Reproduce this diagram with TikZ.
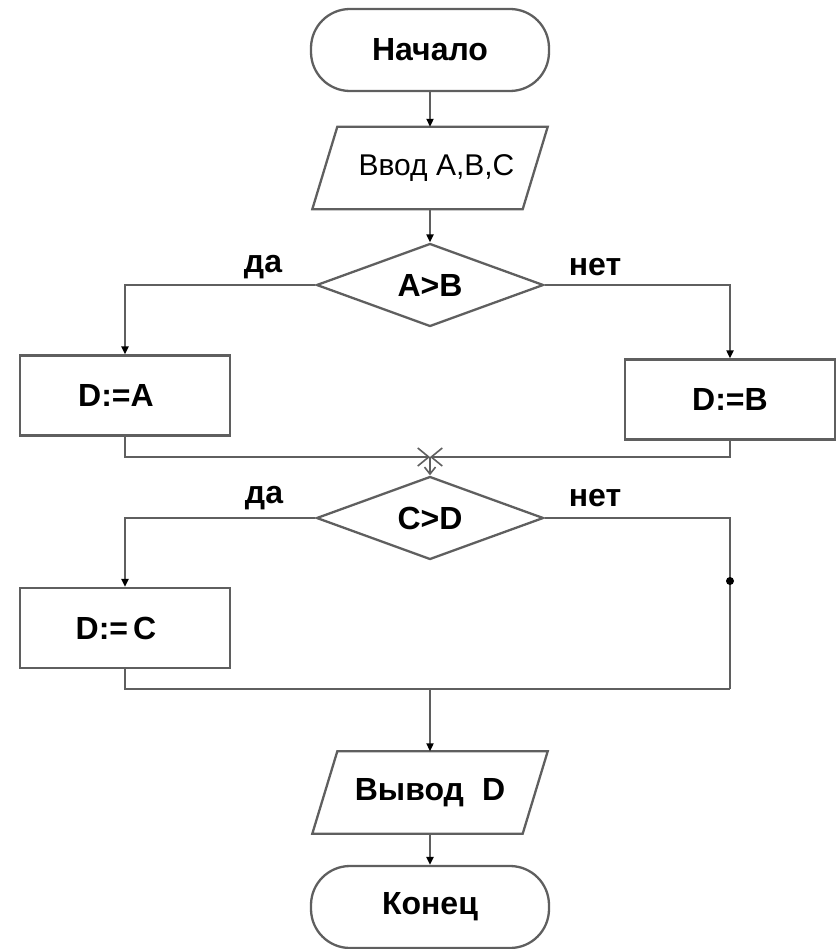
\documentclass[tikz,border=0pt]{standalone}
\usepackage{fontspec}
\setmainfont{Liberation Sans}
\usetikzlibrary{shapes.geometric,arrows.meta}
\definecolor{linegray}{RGB}{95,95,95}
\begin{document}
\begin{tikzpicture}[x=1pt,y=-1pt,
  line/.style={draw=linegray, line width=2.3pt},
  txt/.style={font=\fontsize{32}{38}\selectfont\bfseries, text=black},
  flow/.style={line, -{Triangle[length=8pt,width=7pt,color=black]}},
  barb/.style={line, -{Straight Barb[length=11pt,width=18pt,line width=1.6pt]}},
  barbsmall/.style={line, -{Straight Barb[length=7pt,width=11pt,line width=1.6pt]}},
  term/.style={line, txt, rectangle, rounded corners=39pt, minimum width=238pt, minimum height=82pt, inner sep=0pt},
  frame/.style={txt, draw=none, minimum width=210pt, minimum height=82pt, inner sep=0pt},
  proc/.style={line, txt, rectangle, minimum width=210pt, minimum height=80pt, inner sep=0pt},
  dec/.style={line, txt, diamond, aspect=2.7, minimum width=227pt, minimum height=83pt, inner sep=0pt},
  lbl/.style={txt},
  dot/.style={circle, fill=black, inner sep=0pt, minimum size=8pt}]

\useasboundingbox (0,0) rectangle (836,949);

% terminals, input/output, decisions and assignments
\node[term] (start) at (430,50) {Начало};
\node[frame] (in) at (430,168) {\mdseries\fontsize{30}{36}\selectfont\hspace*{13pt}Ввод A,B,C};
\draw[line] ([xshift=12.5pt]in.north west) -- ([xshift=12.5pt]in.north east)
  -- ([xshift=-12.5pt]in.south east) -- ([xshift=-12.5pt]in.south west) -- cycle;

\node[dec] (d1) at (430,285) {A>B};
\node[proc] (bA) at (125,395.5) {\hspace*{-18pt}D:=A};
\node[proc] (bB) at (730,399.5) {D:=B};

\node[dec] (d2) at (430,518) {C>D};
\node[proc] (bC) at (125,628) {\hspace*{-18pt}D:=\hspace{5pt}C};

\node[frame] (out) at (430,792.5) {Вывод\hspace{18pt}D};
\draw[line] ([xshift=12.5pt]out.north west) -- ([xshift=12.5pt]out.north east)
  -- ([xshift=-12.5pt]out.south east) -- ([xshift=-12.5pt]out.south west) -- cycle;
\node[term] (end) at (430,907) {Конец};

% branch labels
\node[lbl] (yes1) at (263,267) {да};
\node[lbl] (no1) at (595,267) {нет};
\node[lbl] (yes2) at (264,498) {да};
\node[lbl] (no2) at (595,498) {нет};

% junction points
\coordinate (j1) at (430,457);
\coordinate (j2) at (430,689);
\coordinate (r2) at (730,689);

% connectors
\draw[flow] (start) -- (in);
\draw[flow] (in) -- (d1);
\draw[flow] (d1.west) -| (bA.north);
\draw[flow] (d1.east) -| (bB.north);
\draw[barb] (bA.south) |- (j1);
\draw[barb] (bB.south) |- (j1);
\draw[barbsmall] (j1) -- (d2.north);
\draw[flow] (d2.west) -| (bC.north);
\draw[line] (d2.east) -| (r2);
\draw[line] (bC.south) |- (r2);
\draw[flow] (j2) -- (out);
\draw[flow] (out) -- (end);

% marker on the right-hand line
\node[dot] (pt) at (730,581) {};
\end{tikzpicture}
\end{document}
